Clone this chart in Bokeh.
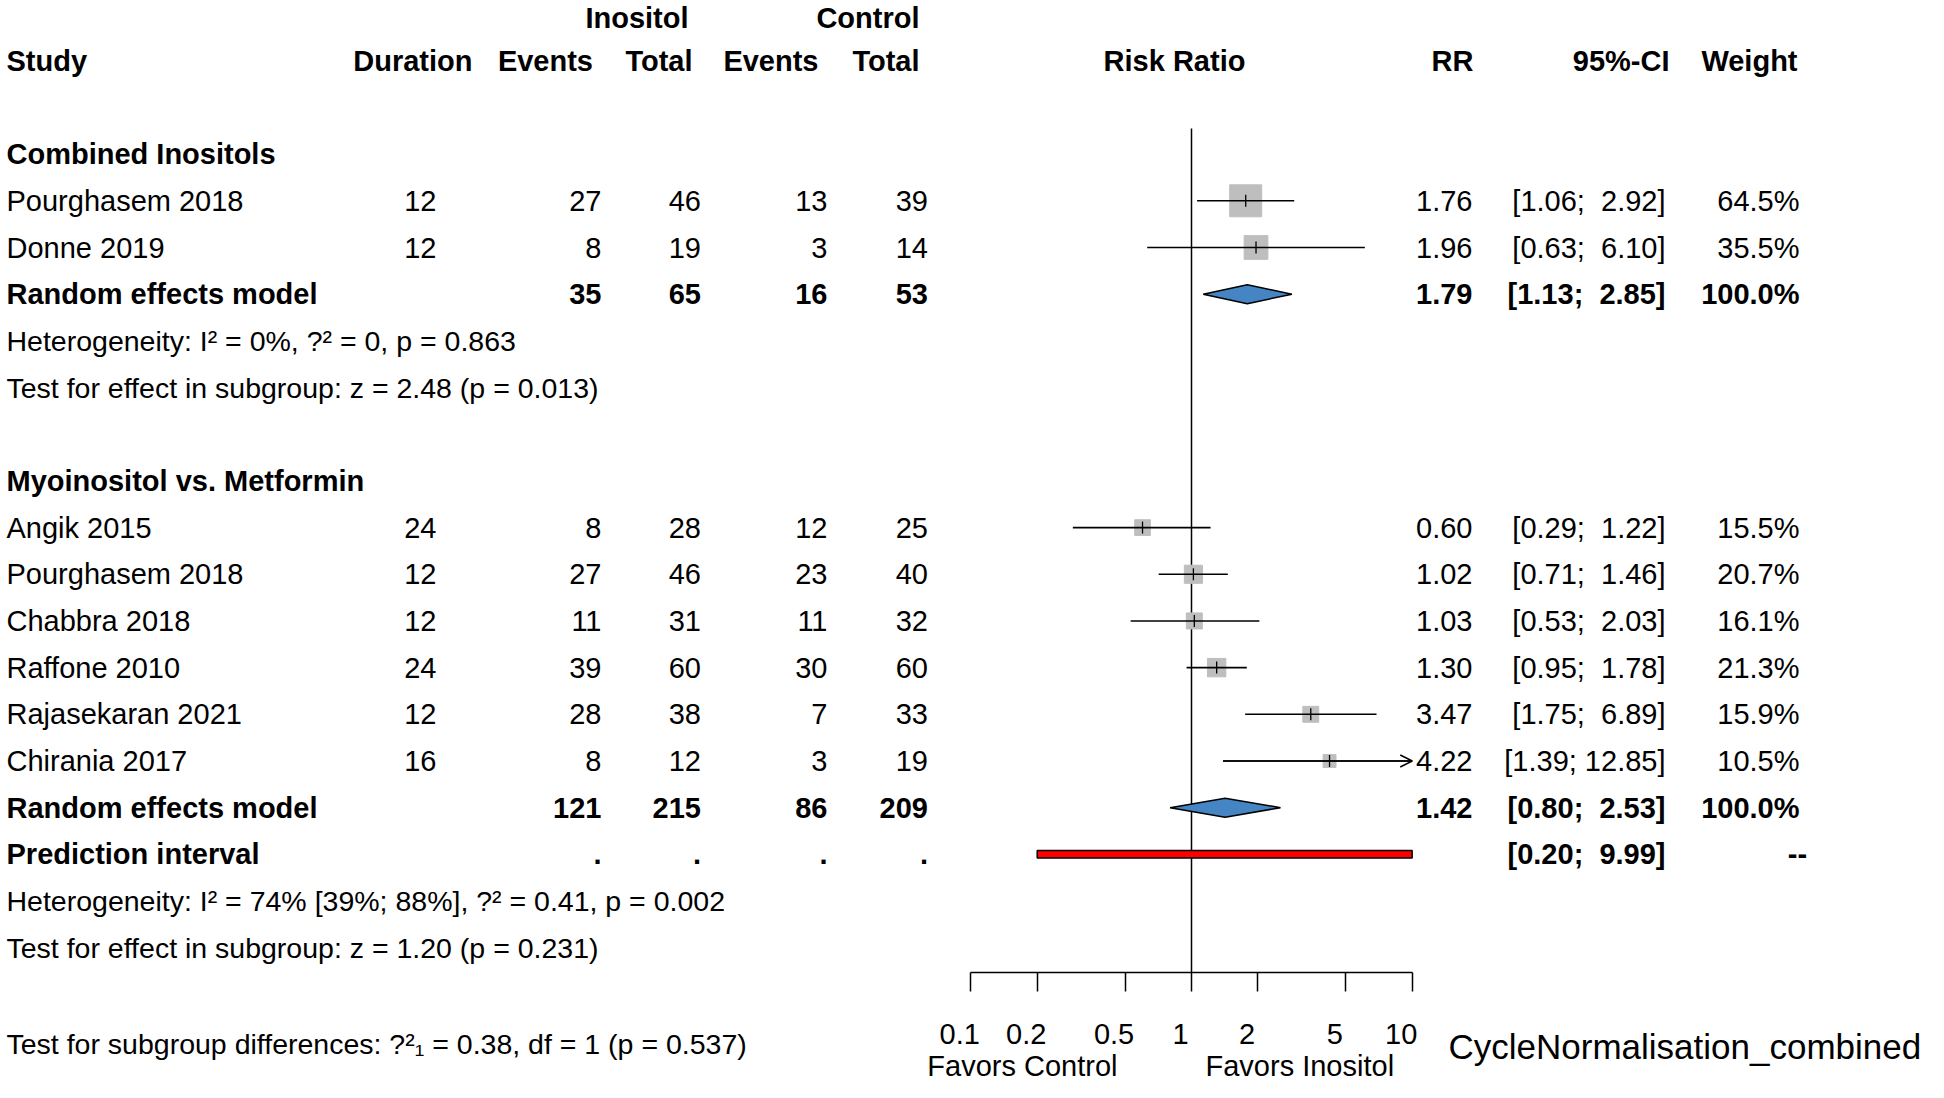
import numpy as np
from bokeh.plotting import figure
from bokeh.models import (ColumnDataSource, Range1d, LinearScale, LogAxis, FixedTicker,
                          Arrow, OpenHead)
from bokeh.core.properties import value
from bokeh.embed import file_html
from bokeh.resources import INLINE

# ---------------- data ----------------
group_names = ["Combined Inositols", "Myoinositol vs. Metformin"]

g1_study = ["Pourghasem 2018", "Donne 2019"]
g1_duration = [12, 12]
g1_ev_ino = [27, 8]
g1_n_ino = [46, 19]
g1_ev_ctrl = [13, 3]
g1_n_ctrl = [39, 14]
g1_rr = [1.76, 1.96]
g1_lo = [1.06, 0.63]
g1_hi = [2.92, 6.10]
g1_weight = [64.5, 35.5]

g2_study = ["Angik 2015", "Pourghasem 2018", "Chabbra 2018", "Raffone 2010",
            "Rajasekaran 2021", "Chirania 2017"]
g2_duration = [24, 12, 12, 24, 12, 16]
g2_ev_ino = [8, 27, 11, 39, 28, 8]
g2_n_ino = [28, 46, 31, 60, 38, 12]
g2_ev_ctrl = [12, 23, 11, 30, 7, 3]
g2_n_ctrl = [25, 40, 32, 60, 33, 19]
g2_rr = [0.60, 1.02, 1.03, 1.30, 3.47, 4.22]
g2_lo = [0.29, 0.71, 0.53, 0.95, 1.75, 1.39]
g2_hi = [1.22, 1.46, 2.03, 1.78, 6.89, 12.85]
g2_weight = [15.5, 20.7, 16.1, 21.3, 15.9, 10.5]

pooled_rr = [1.79, 1.42]
pooled_lo = [1.13, 0.80]
pooled_hi = [2.85, 2.53]
pred_lo = [0.20]
pred_hi = [9.99]

g1_stats = ["Heterogeneity: I² = 0%, ?² = 0, p = 0.863",
            "Test for effect in subgroup:  z = 2.48 (p = 0.013)"]
g2_stats = ["Heterogeneity: I² = 74% [39%; 88%], ?² = 0.41, p = 0.002",
            "Test for effect in subgroup:  z = 1.20 (p = 0.231)"]
overall_stat = "Test for subgroup differences: ?²₁ = 0.38, df = 1 (p = 0.537)"

axis_ticks = [0.1, 0.2, 0.5, 1, 2, 5, 10]
label_left = "Favors Control"
label_right = "Favors Inositol"
plot_label = "CycleNormalisation_combined"

# ---------------- layout ----------------
W, H = 1928, 1082
X_ONE = 1191.0      # px of RR = 1
DEC = 220.75        # px per decade
ROW0, ROWH = 13.6, 46.68
FONT = "Liberation Sans"
FS = "29px"
FS_STAT = "28.5px"

def row_of(ypx):
    return (ypx - ROW0) / ROWH

x_lo = 10 ** ((0 - X_ONE) / DEC)
x_hi = 10 ** ((W - X_ONE) / DEC)

p = figure(width=W, height=H, x_axis_type="log", x_axis_location=None, y_axis_location=None,
           x_range=Range1d(x_lo, x_hi), y_range=Range1d(row_of(H), row_of(0)),
           output_backend="svg", toolbar_location=None, min_border=0)
p.extra_x_ranges = {"px": Range1d(0, W)}
p.extra_x_scales = {"px": LinearScale()}
p.outline_line_color = None
p.xgrid.visible = False
p.ygrid.visible = False
p.background_fill_color = "white"
p.border_fill_color = "white"

# rows
g1_rows = [4, 5]
g2_rows = [11, 12, 13, 14, 15, 16]
pooled_rows = [6, 17]
pred_row = 18
xmin, xmax = axis_ticks[0], axis_ticks[-1]
AXIS_Y = row_of(972)

# vertical reference line
p.segment(x0=[1], x1=[1], y0=[row_of(128)], y1=[AXIS_Y], line_color="black", line_width=1.5)

# study squares, CIs
rows = g1_rows + g2_rows
rr = np.array(g1_rr + g2_rr)
lo = np.array(g1_lo + g2_lo)
hi = np.array(g1_hi + g2_hi)
wt = np.array(g1_weight + g2_weight)
tick_half = 6.0 / ROWH
src = ColumnDataSource(dict(
    y=rows, rr=rr, lo=np.maximum(lo, xmin), hi=np.minimum(hi, xmax),
    size=3.985 * np.sqrt(wt),
    yt=[r - tick_half for r in rows], yb=[r + tick_half for r in rows]))
p.scatter(x="rr", y="y", size="size", marker="square", fill_color="#BEBEBE",
          line_color="#BEBEBE", source=src)
p.segment(x0="lo", x1="hi", y0="y", y1="y", line_color="black", line_width=1.6, source=src)
p.segment(x0="rr", x1="rr", y0="yt", y1="yb", line_color="black", line_width=1.3, source=src)

# arrows for truncated CIs
trunc = [i for i in range(len(rows)) if hi[i] > xmax]
if trunc:
    asrc = ColumnDataSource(dict(x0=[lo[i] for i in trunc], x1=[xmax] * len(trunc),
                                 y=[rows[i] for i in trunc]))
    p.add_layout(Arrow(end=OpenHead(size=12, line_width=1.5), x_start="x0", y_start="y",
                       x_end="x1", y_end="y", line_width=1.6, source=asrc))

# diamonds
dh = 9.5 / ROWH
xs = [[l, m, h, m] for l, m, h in zip(pooled_lo, pooled_rr, pooled_hi)]
ys = [[r, r - dh, r, r + dh] for r in pooled_rows]
p.patches(xs=xs, ys=ys, fill_color="#4585C4", line_color="black", line_width=1.5)

# prediction interval
p.hbar(y=[pred_row], left=pred_lo, right=pred_hi, height=7.5 / ROWH,
       fill_color="#FF0000", line_color="black", line_width=1.5)

# axis (line + ticks); tick labels drawn below, offset as in the reference
ax = LogAxis(ticker=FixedTicker(ticks=axis_ticks),
             fixed_location=AXIS_Y, bounds=(xmin, xmax),
             axis_line_width=1.5, axis_line_color="black",
             major_tick_line_width=1.5, major_tick_line_color="black",
             major_tick_out=19, major_tick_in=0, minor_tick_out=0, minor_tick_in=0,
             major_label_text_alpha=0, major_label_text_font_size="1px")
p.add_layout(ax, "below")
tsrc = ColumnDataSource(dict(x=axis_ticks, y=[row_of(1033)] * len(axis_ticks),
                             text=["%g" % t for t in axis_ticks]))
p.text(x="x", y="y", text="text", source=tsrc, x_offset=-11, text_align="center",
       text_baseline="middle", text_font=value(FONT), text_font_size=FS, text_color="black")

# ---------------- texts ----------------
COL = dict(study=6, dur=436, ev_i=601, n_i=700.5, ev_c=827, n_c=927.5,
           rr=1472, ci=1665, w=1799)
texts = []  # (x, row, text, align, bold, size)

def T(x, r, t, align="right", bold=False, size=FS):
    texts.append((x, r, str(t), align, bold, size))

# header
T(688, row_of(17.5), "Inositol", bold=True)
T(919, row_of(17.5), "Control", bold=True)
T(COL["study"], 1, "Study", "left", True)
T(472, 1, "Duration", bold=True)
T(592.5, 1, "Events", bold=True)
T(692, 1, "Total", bold=True)
T(818, 1, "Events", bold=True)
T(919, 1, "Total", bold=True)
T(1174, 1, "Risk Ratio", "center", True)
T(1473, 1, "RR", bold=True)
T(1669, 1, "95%-CI", bold=True)
T(1797, 1, "Weight", bold=True)

def fmt_ci(l, h):
    s = "%5.2f" % h
    pad = "\u00a0" * (len(s) - len(s.lstrip()))
    return "[%.2f;\u00a0%s%s]" % (l, pad, s.strip())

groups = [
    (g1_study, g1_duration, g1_ev_ino, g1_n_ino, g1_ev_ctrl, g1_n_ctrl, g1_rr, g1_lo, g1_hi, g1_weight, g1_rows, g1_stats),
    (g2_study, g2_duration, g2_ev_ino, g2_n_ino, g2_ev_ctrl, g2_n_ctrl, g2_rr, g2_lo, g2_hi, g2_weight, g2_rows, g2_stats),
]
for gi, (st, du, ei, ni, ec, nc, r_, l_, h_, w_, rws, stats) in enumerate(groups):
    T(COL["study"], rws[0] - 1, group_names[gi], "left", True)
    for k, r in enumerate(rws):
        T(COL["study"], r, st[k], "left")
        T(COL["dur"], r, du[k])
        T(COL["ev_i"], r, ei[k])
        T(COL["n_i"], r, ni[k])
        T(COL["ev_c"], r, ec[k])
        T(COL["n_c"], r, nc[k])
        T(COL["rr"], r, "%.2f" % r_[k])
        T(COL["ci"], r, fmt_ci(l_[k], h_[k]))
        T(COL["w"], r, "%.1f%%" % w_[k])
    pr = pooled_rows[gi]
    T(COL["study"], pr, "Random effects model", "left", True)
    T(COL["ev_i"], pr, sum(ei), bold=True)
    T(COL["n_i"], pr, sum(ni), bold=True)
    T(COL["ev_c"], pr, sum(ec), bold=True)
    T(COL["n_c"], pr, sum(nc), bold=True)
    T(COL["rr"], pr, "%.2f" % pooled_rr[gi], bold=True)
    T(COL["ci"], pr, fmt_ci(pooled_lo[gi], pooled_hi[gi]), bold=True)
    T(COL["w"], pr, "%.1f%%" % sum(w_), bold=True)
    srow = pred_row + 1 if gi == 1 else pr + 1
    T(COL["study"], srow, stats[0], "left", size=FS_STAT)
    T(COL["study"], srow + 1, stats[1], "left", size=FS_STAT)

T(COL["study"], pred_row, "Prediction interval", "left", True)
for c in ["ev_i", "n_i", "ev_c", "n_c"]:
    T(COL[c], pred_row, ".", bold=True)
T(COL["ci"], pred_row, fmt_ci(pred_lo[0], pred_hi[0]), bold=True)
T(1797, pred_row, "--", "center", True)

T(COL["study"], row_of(1043), overall_stat, "left", size=FS_STAT)
T(1117, row_of(1065), label_left)
T(1205, row_of(1065), label_right, "left")
T(1448, row_of(1046), plot_label, "left", size="35px")

keys = sorted(set((a, b, s) for _, _, _, a, b, s in texts))
for a, b, s in keys:
    sel = [t for t in texts if t[3] == a and t[4] == b and t[5] == s]
    ts = ColumnDataSource(dict(x=[t[0] for t in sel], y=[t[1] for t in sel], text=[t[2] for t in sel]))
    p.text(x="x", y="y", text="text", source=ts, x_range_name="px",
           text_align=a, text_baseline="middle", text_font=value(FONT),
           text_font_size=s, text_font_style="bold" if b else "normal",
           text_color="black")

open("out.html", "w").write(file_html(p, INLINE))
